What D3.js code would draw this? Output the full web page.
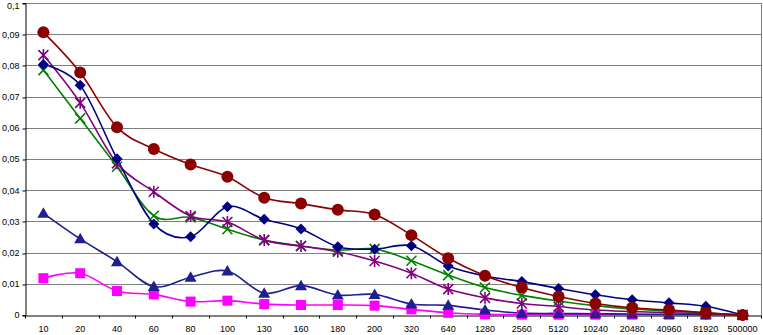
<!DOCTYPE html>
<html><head><meta charset="utf-8">
<script src="https://cdn.jsdelivr.net/npm/d3@7"></script>
<style>body{margin:0;background:#fff}svg{display:block}</style>
</head><body><svg id="c" width="763" height="335"></svg>
<script>
const categories = ["10","20","40","60","80","100","130","160","180","200","320","640","1280","2560","5120","10240","20480","40960","81920","500000"];
const yTicks = [0,0.01,0.02,0.03,0.04,0.05,0.06,0.07,0.08,0.09,0.1];
const maroonCircles = [0.0906,0.0777,0.0602,0.0532,0.0482,0.0443,0.0376,0.0357,0.0337,0.0322,0.0256,0.0182,0.0126,0.0088,0.0059,0.0037,0.0023,0.0016,0.0007,0];
const navyDiamonds = [0.0803,0.0736,0.0501,0.0292,0.0251,0.0347,0.0307,0.0276,0.0219,0.0211,0.0222,0.0157,0.0125,0.0107,0.0085,0.0065,0.0049,0.0039,0.0028,0];
const purpleStars = [0.0833,0.068,0.0486,0.0395,0.0317,0.0298,0.024,0.0221,0.0203,0.0173,0.0134,0.0083,0.0055,0.0037,0.0027,0.0016,0.0011,0.0007,0.0004,0];
const greenCrosses = [0.0785,0.063,0.0475,0.0318,0.0313,0.0275,0.024,0.0221,0.0208,0.0212,0.0174,0.0128,0.0088,0.0063,0.0045,0.003,0.0019,0.0013,0.0007,0];
const blueTriangles = [0.0326,0.0244,0.0171,0.0091,0.0121,0.0141,0.007,0.0094,0.0064,0.0066,0.0035,0.0031,0.0016,0.0006,0.0005,0.0004,0.0003,0.0002,0.0001,0];
const magentaSquares = [0.0118,0.0134,0.0077,0.0066,0.0043,0.0046,0.0035,0.0032,0.0032,0.003,0.0018,0.0007,0.0002,0.0001,0.0001,0.0001,0.0001,0.0001,0.0001,0];

const series = [
  {values: magentaSquares, color: "#ff00ff", marker: "square"},
  {values: blueTriangles, color: "#1f1f8f", marker: "triangle"},
  {values: greenCrosses, color: "#008000", marker: "x"},
  {values: purpleStars, color: "#800080", marker: "star"},
  {values: navyDiamonds, color: "#000080", marker: "diamond"},
  {values: maroonCircles, color: "#8b0000", marker: "circle"}
];

const svg = d3.select("#c");
const L = 25, R = 761, T = 3, B = 315;
const x = d3.scaleBand().domain(categories).range([L, R]).padding(0);
const y = d3.scaleLinear().domain([0, 0.1]).range([B, T]);
const fmt = v => v === 0 ? "0" : d3.format(".2~f")(v).replace(".", ",");

// gridlines
svg.append("g").selectAll("line").data(yTicks.filter(d => d > 0)).join("line")
  .attr("x1", L).attr("x2", R).attr("y1", d => Math.round(y(d)) + 0.5).attr("y2", d => Math.round(y(d)) + 0.5)
  .attr("stroke", "#808080").attr("stroke-width", 1);
// right border
svg.append("line").attr("x1", R + 0.5).attr("x2", R + 0.5).attr("y1", T).attr("y2", B)
  .attr("stroke", "#808080");

// y axis
const ya = svg.append("g").attr("transform", `translate(${L + 0.5},0)`)
  .call(d3.axisLeft(y).tickValues(yTicks).tickFormat(fmt).tickSize(3).tickPadding(3));
ya.selectAll("text").attr("font-family", "Liberation Sans, Arial, sans-serif").attr("font-size", 9).attr("fill", "#000")
  .attr("dy", d => d === 0.1 ? "0.85em" : "0.32em").attr("y", d => d === 0.1 ? -2 : 0);
ya.select(".domain").attr("stroke", "#000");
ya.selectAll(".tick line").attr("stroke", "#000").attr("transform", d => `translate(0,${Math.round(y(d)) + 0.5 - y(d)})`);

// x axis
const xa = svg.append("g").attr("transform", `translate(0,${B + 0.5})`)
  .call(d3.axisBottom(x).tickSize(0).tickPadding(10));
xa.selectAll("text").attr("font-family", "Liberation Sans, Arial, sans-serif").attr("font-size", 9).attr("fill", "#000");
xa.select(".domain").attr("stroke", "#000");
xa.append("g").selectAll("line").data(categories.concat(["__end"])).join("line")
  .attr("x1", (d, i) => Math.round(L + i * x.bandwidth()) + 0.5)
  .attr("x2", (d, i) => Math.round(L + i * x.bandwidth()) + 0.5)
  .attr("y1", 0).attr("y2", 3).attr("stroke", "#000");

const cx = (d, i) => x(categories[i]) + x.bandwidth() / 2;
const line = d3.line().x(cx).y(d => y(d)).curve(d3.curveCardinal.tension(0));

series.forEach(s => {
  svg.append("path").datum(s.values).attr("d", line)
    .attr("fill", "none").attr("stroke", s.color).attr("stroke-width", 1.6);
});

series.forEach(s => {
  const g = svg.append("g");
  s.values.forEach((v, i) => {
    const px = cx(v, i), py = y(v);
    if (s.marker === "circle") {
      g.append("circle").attr("cx", px).attr("cy", py).attr("r", 6).attr("fill", s.color);
    } else if (s.marker === "square") {
      g.append("rect").attr("x", px - 5).attr("y", py - 5).attr("width", 10).attr("height", 10).attr("fill", s.color);
    } else if (s.marker === "diamond") {
      g.append("path").attr("d", `M${px},${py-5.5}L${px+5.5},${py}L${px},${py+5.5}L${px-5.5},${py}Z`).attr("fill", s.color);
    } else if (s.marker === "triangle") {
      g.append("path").attr("d", `M${px},${py-6}L${px+6},${py+4.5}L${px-6},${py+4.5}Z`).attr("fill", s.color);
    } else if (s.marker === "x") {
      g.append("path").attr("d", `M${px-5},${py-5}L${px+5},${py+5}M${px+5},${py-5}L${px-5},${py+5}`)
        .attr("stroke", s.color).attr("stroke-width", 1.6);
    } else if (s.marker === "star") {
      g.append("path").attr("d", `M${px-5},${py-5}L${px+5},${py+5}M${px+5},${py-5}L${px-5},${py+5}M${px},${py-6}L${px},${py+6}`)
        .attr("stroke", s.color).attr("stroke-width", 1.6);
    }
  });
});
</script></body></html>
